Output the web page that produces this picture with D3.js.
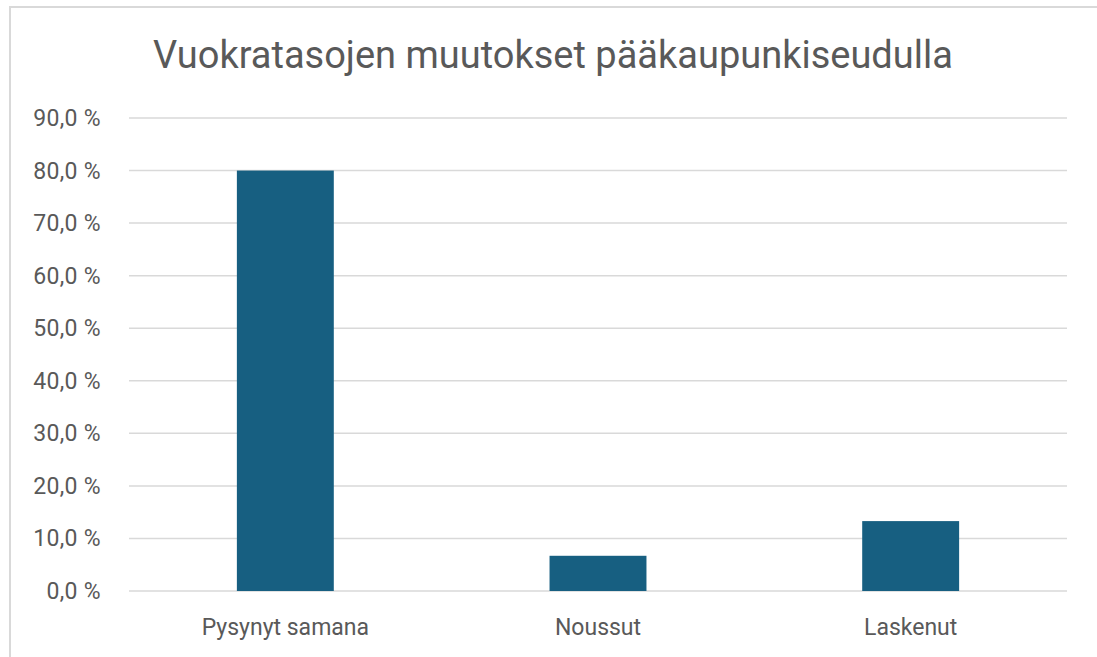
<!DOCTYPE html>
<html>
<head>
<meta charset="utf-8">
<script src="https://cdn.jsdelivr.net/npm/d3@7"></script>
<style>
  body { margin: 0; background: #fff; }
  text { font-family: Roboto, "Open Sans", sans-serif; fill: #595959; }
</style>
</head>
<body>
<svg id="chart" width="1097" height="657"></svg>
<script>
const svg = d3.select('#chart');

// Chart data
const categories = ['Pysynyt samana', 'Noussut', 'Laskenut'];
const values = [80.0, 6.7, 13.3];
const yTicks = [0, 10, 20, 30, 40, 50, 60, 70, 80, 90];
const title = 'Vuokratasojen muutokset pääkaupunkiseudulla';

const plot = { left: 129, right: 1067, top: 118, bottom: 591 };

// Outer chart frame (partly cut off at right and bottom)
svg.append('rect')
    .attr('x', 10).attr('y', 7)
    .attr('width', 1200).attr('height', 800)
    .attr('fill', 'none')
    .attr('stroke', '#d9d9d9')
    .attr('stroke-width', 2);

const x = d3.scaleBand()
    .domain(categories)
    .range([plot.left, plot.right])
    .paddingInner(0.69)
    .paddingOuter(0.345);

const y = d3.scaleLinear()
    .domain([0, 90])
    .range([plot.bottom, plot.top]);

// Horizontal gridlines
svg.append('g').selectAll('line')
    .data(yTicks)
    .join('line')
    .attr('x1', plot.left)
    .attr('x2', plot.right)
    .attr('y1', d => y(d))
    .attr('y2', d => y(d))
    .attr('stroke', '#d9d9d9')
    .attr('stroke-width', 1.5);

// Y axis labels
const fmt = d => d.toFixed(1).replace('.', ',') + ' %';
svg.append('g').selectAll('text')
    .data(yTicks)
    .join('text')
    .attr('x', 101)
    .attr('y', d => y(d))
    .attr('dy', '0.35em')
    .attr('text-anchor', 'end')
    .style('font-size', '23px')
    .style('letter-spacing', '0.3px')
    .text(fmt);

// Bars
svg.append('g').selectAll('rect')
    .data(categories)
    .join('rect')
    .attr('x', d => x(d))
    .attr('width', x.bandwidth())
    .attr('y', (d, i) => y(values[i]))
    .attr('height', (d, i) => y(0) - y(values[i]))
    .attr('fill', '#175f81');

// Category labels
svg.append('g').selectAll('text')
    .data(categories)
    .join('text')
    .attr('x', d => x(d) + x.bandwidth() / 2)
    .attr('y', 635)
    .attr('text-anchor', 'middle')
    .style('font-size', '23px')
    .text(d => d);

// Title
svg.append('text')
    .attr('x', 553)
    .attr('y', 68)
    .attr('text-anchor', 'middle')
    .style('font-size', '38px')
    .text(title);
</script>
</body>
</html>
